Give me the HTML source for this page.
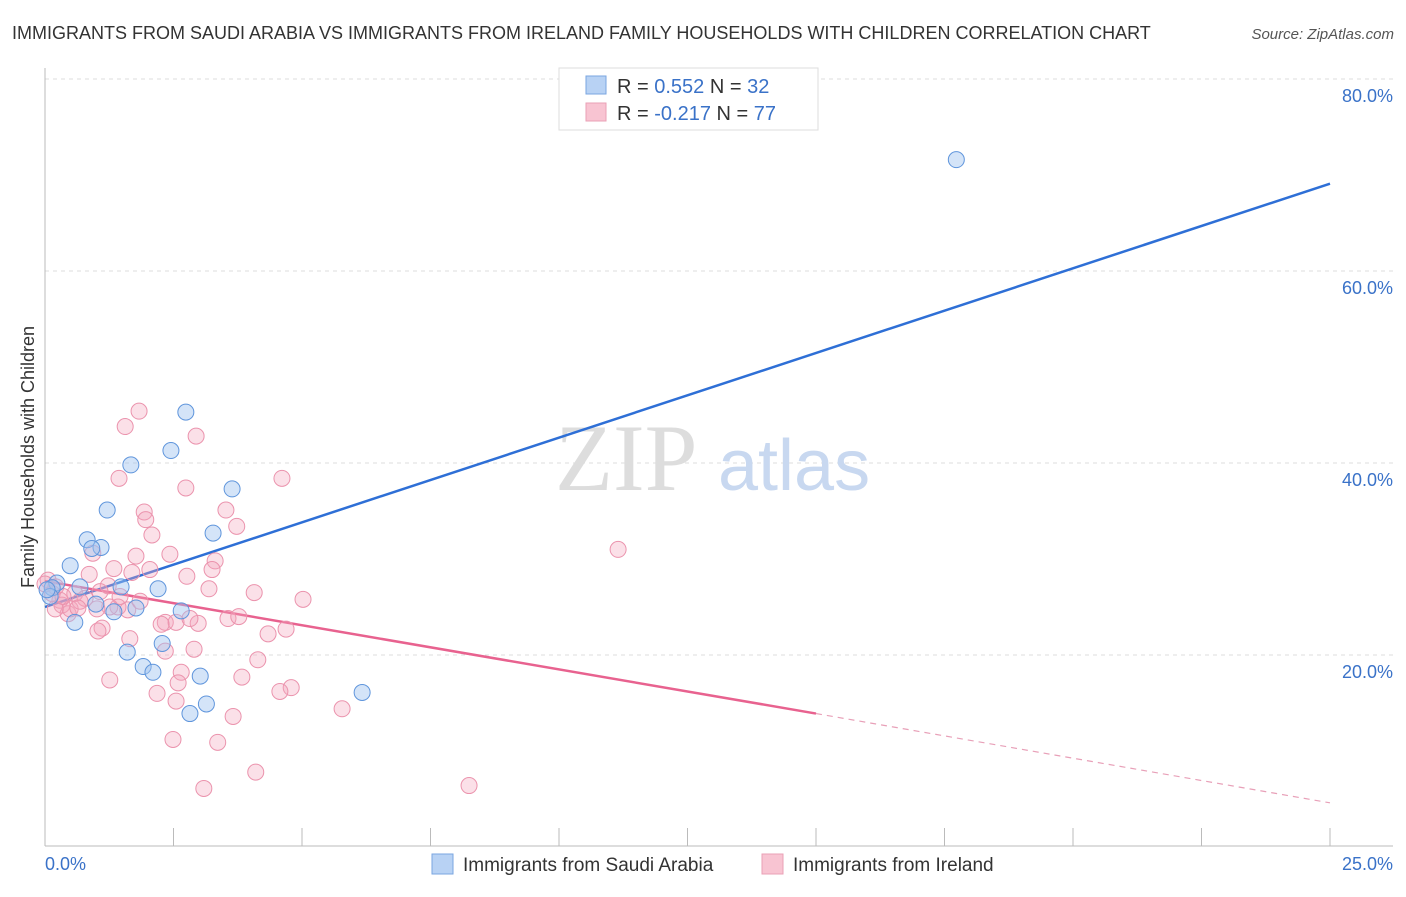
<!DOCTYPE html>
<html><head><meta charset="utf-8"><style>
body{margin:0;background:#fff;font-family:"Liberation Sans",sans-serif}
</style></head><body>
<svg width="1406" height="892" xmlns="http://www.w3.org/2000/svg">
<text x="12" y="39" font-size="18" fill="#333">IMMIGRANTS FROM SAUDI ARABIA VS IMMIGRANTS FROM IRELAND FAMILY HOUSEHOLDS WITH CHILDREN CORRELATION CHART</text>
<text x="1394" y="39" font-size="15" fill="#555" font-style="italic" text-anchor="end">Source: ZipAtlas.com</text>
<g id="grid"></g>
<text x="555" y="490" font-size="95" fill="#ddd" font-family="Liberation Serif,serif">ZIP</text>
<text x="718" y="490" font-size="72" fill="#c8d8f0">atlas</text>
<g id="lines"></g>
<g id="points"></g>
<text x="34" y="457" font-size="18" fill="#333" transform="rotate(-90 34 457)" text-anchor="middle">Family Households with Children</text>
<text x="45" y="870" font-size="18" fill="#3a72c8">0.0%</text>
<text x="1393" y="870" font-size="18" fill="#3a72c8" text-anchor="end">25.0%</text>
<g>
<rect x="559" y="68" width="259" height="62" fill="#fff" stroke="#ddd"/>
<rect x="586" y="76" width="20" height="18" fill="#b8d2f4" stroke="#7aa6e0"/>
<rect x="586" y="103" width="20" height="18" fill="#f8c4d2" stroke="#eaa0b6"/>
<text x="617" y="93" font-size="20" fill="#333">R = <tspan fill="#3a72c8">0.552</tspan>   N = <tspan fill="#3a72c8">32</tspan></text>
<text x="617" y="120" font-size="20" fill="#333">R = <tspan fill="#3a72c8">-0.217</tspan>   N = <tspan fill="#3a72c8">77</tspan></text>
</g>
<g>
<rect x="432" y="854" width="21" height="20" fill="#b8d2f4" stroke="#7aa6e0"/>
<text x="463" y="871" font-size="19" fill="#333">Immigrants from Saudi Arabia</text>
<rect x="762" y="854" width="21" height="20" fill="#f8c4d2" stroke="#eaa0b6"/>
<text x="793" y="871" font-size="19" fill="#333">Immigrants from Ireland</text>
</g>
</svg>
<script>
const yTicks=[20,40,60,80];
const xTicks=[0,2.5,5,7.5,10,12.5,15,17.5,20,22.5,25];
const blueX=[17.73,29.3,2.74,2.45,1.67,3.64,1.21,3.27,0.82,1.09,0.91,0.49,0.23,0.14,0.68,1.48,2.2,0.1,0.99,1.77,2.65,0.58,2.28,1.6,1.91,2.1,3.02,6.17,3.14,2.82,1.34,0.04];
const blueY=[71.6,56.8,45.3,41.3,39.8,37.3,35.1,32.7,32.0,31.2,31.1,29.3,27.5,27.0,27.1,27.1,26.9,26.1,25.3,24.9,24.6,23.4,21.2,20.3,18.8,18.2,17.8,16.1,14.9,13.9,24.5,26.8];
const pinkX=[1.83,1.56,2.94,1.44,2.74,4.61,3.52,1.93,1.96,3.73,2.08,2.43,1.77,0.93,3.31,3.25,1.34,0.86,2.76,1.69,2.04,3.19,1.23,4.07,5.02,0.58,0.29,0.33,0.78,1.42,1.26,1.61,1.01,0.45,3.56,3.77,2.34,2.26,2.98,2.55,2.82,1.11,1.03,4.69,4.34,1.65,2.34,2.9,4.14,2.65,3.83,2.59,0.49,0.2,1.26,4.79,4.57,2.18,2.55,3.66,5.78,2.49,3.36,4.1,8.25,3.09,11.15,0.06,0.14,0.35,0.68,1.46,1.07,1.85,0.64,0.21,0];
const pinkY=[45.4,43.8,42.8,38.4,37.4,38.4,35.1,34.9,34.1,33.4,32.5,30.5,30.3,30.6,29.8,28.9,29.0,28.4,28.2,28.6,28.9,26.9,27.2,26.5,25.8,26.4,25.7,25.2,25.9,25.0,25.0,24.7,24.8,24.3,23.8,24.0,23.4,23.2,23.3,23.4,23.8,22.8,22.5,22.7,22.2,21.7,20.4,20.6,19.5,18.2,17.7,17.1,24.8,24.8,17.4,16.6,16.2,16.0,15.2,13.6,14.4,11.2,10.9,7.8,6.4,6.1,31.0,27.8,26.4,26.1,25.6,26.1,26.6,25.6,24.9,27.1,27.4];
const blueLine=[[0,25.0],[25,69.1]];
const pinkSolid=[[0,27.7],[15,13.9]];
const pinkDash=[[15,13.9],[25,4.6]];
const NS="http://www.w3.org/2000/svg";
const X=v=>45+v/25*1285, Y=v=>847-v/20*192;
function mk(t,a,p){const e=document.createElementNS(NS,t);for(const k in a)e.setAttribute(k,a[k]);p.appendChild(e);return e;}
const grid=document.getElementById('grid');
yTicks.forEach(t=>{
 const l=mk('line',{x1:45,x2:1393,y1:Y(t),y2:Y(t),stroke:'#ddd','stroke-dasharray':'4,4'},grid);
 
 
 const tx=mk('text',{x:1393,y:Y(t)+23,'font-size':18,fill:'#3a72c8','text-anchor':'end'},grid);tx.textContent=t.toFixed(1)+'%';
 
 
});
const ax=mk('line',{x1:45,x2:1393,y1:846,y2:846,stroke:'#bbb'},grid);


const ay=mk('line',{x1:45,x2:45,y1:68,y2:846,stroke:'#bbb'},grid);


xTicks.forEach(t=>{const l=mk('line',{x1:X(t),x2:X(t),y1:828,y2:846,stroke:'#bbb'},grid);
 
 });
const pts=document.getElementById('points');
pinkX.forEach((v,i)=>{const c=mk('circle',{cx:X(v),cy:Y(pinkY[i]),r:8,fill:'rgba(244,165,188,0.35)',stroke:'#eb93ad','stroke-width':1},pts);
 
 });
blueX.forEach((v,i)=>{const c=mk('circle',{cx:X(v),cy:Y(blueY[i]),r:8,fill:'rgba(160,196,240,0.45)',stroke:'#5f95dc','stroke-width':1},pts);
 
 });
const ln=document.getElementById('lines');
const b=mk('line',{x1:X(blueLine[0][0]),y1:Y(blueLine[0][1]),x2:X(blueLine[1][0]),y2:Y(blueLine[1][1]),stroke:'#2e6fd6','stroke-width':2.5},ln);


const p=mk('line',{x1:X(pinkSolid[0][0]),y1:Y(pinkSolid[0][1]),x2:X(pinkSolid[1][0]),y2:Y(pinkSolid[1][1]),stroke:'#e8628f','stroke-width':2.5},ln);


const d=mk('line',{x1:X(pinkDash[0][0]),y1:Y(pinkDash[0][1]),x2:X(pinkDash[1][0]),y2:Y(pinkDash[1][1]),stroke:'#e8a0b8','stroke-width':1.2,'stroke-dasharray':'6,5'},ln);


</script>
</body></html>
